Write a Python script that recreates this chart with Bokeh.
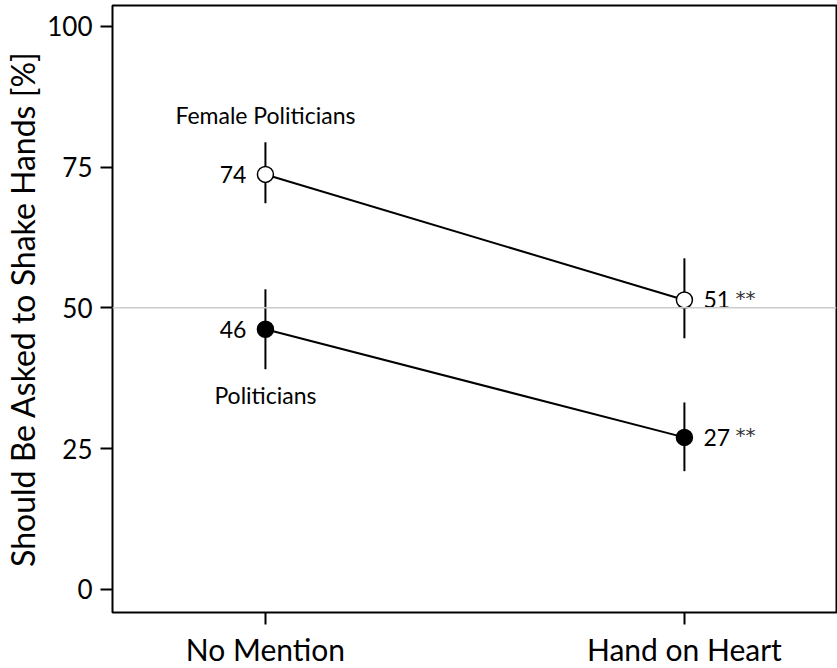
from bokeh.plotting import figure
from bokeh.models import ColumnDataSource, FixedTicker, Span
from bokeh.core.properties import value
from bokeh.embed import file_html
from bokeh.resources import INLINE

# ---- data ----
conditions = ["No Mention", "Hand on Heart"]
cond_x = [1, 2]
female_mean = [73.7, 51.4]
female_lo = [68.6, 44.6]
female_hi = [79.4, 58.8]
female_labels = ["74", "51"]
pol_mean = [46.2, 27.0]
pol_lo = [39.1, 21.0]
pol_hi = [53.3, 33.2]
pol_labels = ["46", "27"]
significance = ["", "**"]
series_names = ["Female Politicians", "Politicians"]
series_name_y = [84.3, 34.6]
y_ticks = [0, 25, 50, 75, 100]
reference_level = 50

FONT = "Lato"

p = figure(frame_width=724, frame_height=607,
           x_range=(0.635, 2.363), y_range=(-4.1, 103.7),
           output_backend="svg", toolbar_location=None,
           min_border_left=106, min_border_right=1,
           min_border_top=5, min_border_bottom=54)

p.xgrid.visible = False
p.ygrid.visible = False
p.outline_line_color = "black"
p.outline_line_width = 2
p.background_fill_color = "white"
p.border_fill_color = "white"

# axes
p.xaxis.ticker = FixedTicker(ticks=cond_x)
p.xaxis.major_label_overrides = {x: c for x, c in zip(cond_x, conditions)}
p.yaxis.ticker = FixedTicker(ticks=y_ticks)
for ax in (p.xaxis[0], p.yaxis[0]):
    ax.axis_line_color = None
    ax.major_tick_line_color = "black"
    ax.major_tick_line_width = 2
    ax.major_tick_out = 12
    ax.major_tick_in = 0
    ax.minor_tick_line_color = None
    ax.major_label_text_font = FONT
    ax.major_label_text_color = "black"
p.xaxis.major_label_text_font_size = "30px"
p.yaxis.major_label_text_font_size = "26px"
p.xaxis.major_label_standoff = 6
p.yaxis.major_label_standoff = 8
p.yaxis.axis_label = "Should Be Asked to Shake Hands [%]"
p.yaxis.axis_label_text_font = FONT
p.yaxis.axis_label_text_font_style = "normal"
p.yaxis.axis_label_text_font_size = "32px"
p.yaxis.axis_label_text_color = "black"
p.yaxis.axis_label_standoff = 2

# reference line at 50
p.add_layout(Span(location=reference_level, dimension="width",
                  line_color="#cccccc", line_width=1.5))

fem = ColumnDataSource(dict(x=cond_x, y=female_mean, lo=female_lo, hi=female_hi,
                            lab=female_labels, sig=significance))
pol = ColumnDataSource(dict(x=cond_x, y=pol_mean, lo=pol_lo, hi=pol_hi,
                            lab=pol_labels, sig=significance))

for src, fill in ((fem, "white"), (pol, "black")):
    p.segment(x0="x", y0="lo", x1="x", y1="hi", source=src,
              line_color="black", line_width=2)
    p.line(x="x", y="y", source=src, line_color="black", line_width=2)
    p.scatter(x="x", y="y", source=src, size=16, fill_color=fill,
              line_color="black", line_width=1.5)

# value labels
for src in (fem, pol):
    p.text(x=[src.data["x"][0]], y=[src.data["y"][0]], text=[src.data["lab"][0]],
           x_offset=-19, text_align="right", text_baseline="middle",
           text_font=value(FONT), text_font_size="23px", text_color="black")
    p.text(x=[src.data["x"][1]], y=[src.data["y"][1]], text=[src.data["lab"][1]],
           x_offset=19, text_align="left", text_baseline="middle",
           text_font=value(FONT), text_font_size="23px", text_color="black")
    p.text(x=[src.data["x"][1]], y=[src.data["y"][1]], text=[src.data["sig"][1]],
           x_offset=51, y_offset=-2, text_align="left", text_baseline="middle",
           text_font=value("DejaVu Sans"), text_font_size="20px", text_color="#333333")

# series names
p.text(x=[cond_x[0], cond_x[0]], y=series_name_y, text=series_names,
       text_align="center", text_baseline="middle",
       text_font=value(FONT), text_font_size="23px", text_color="black")

open("out.html", "w").write(file_html(p, INLINE))
